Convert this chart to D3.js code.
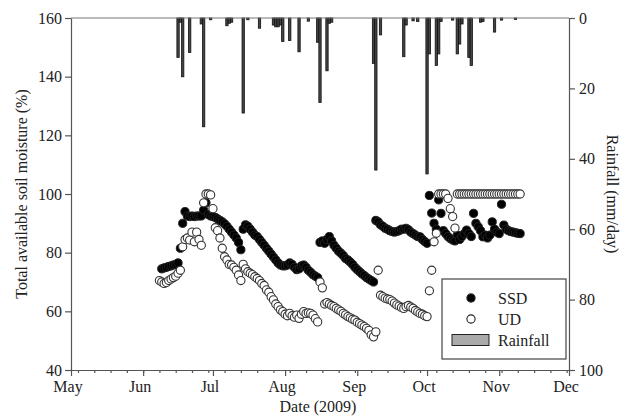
<!DOCTYPE html>
<html>
<head>
<meta charset="utf-8">
<script src="https://cdn.jsdelivr.net/npm/d3@7"></script>
<style>
  body { margin: 0; background: #fff; }
  svg { display: block; font-family: "Liberation Serif", "Times New Roman", serif; }
  .axis text { font-size: 16px; fill: #222; font-family: "Liberation Serif", serif; }
  .axis path, .axis line { stroke: #555; stroke-width: 1.2; }
</style>
</head>
<body>
<svg id="chart" width="625" height="416"></svg>
<script>
// ======== DATA ========
const xDomain = ['2009-05-01', '2009-12-01'];
const monthLabels = ['May', 'Jun', 'Jul', 'Aug', 'Sep', 'Oct', 'Nov', 'Dec'];
const moistureTicks = [40, 60, 80, 100, 120, 140, 160];
const rainTicks = [0, 20, 40, 60, 80, 100];

// daily readings, first day given by *Start
const ssdStart = '2009-06-09';
const ssdValues = [
  74.5, 74.8, 75, 75.3, 75.5, 75.8, 76, 76.5, 81.5,
  90, 94, 92.5, 92.3, 92.5, 92.3, 92.5, 92.5, 92.5, 94.5, 97, 93, 92.5,
  92.3, 92, 91.5, 91, 90.5, 89.8, 89, 88, 87, 86, 85, 83.5, 81,
  88, 89.5, 89, 88, 87, 86, 85.5, 84.5, 83.5, 82.5, 81.5, 80.5, 79.5, 78.5, 77.5, 76.5, 75.8,
  75.5, 75.5, 75.8, 76.5, 76, 75, 74.2, 74.5, 75.5, 75.8, 75, 74, 73.3, 72.5, 72, 71.5,
  83.5, 84, 83.2, 84.5, 85.5, 84, 82.5, 81.5, 80.5, 79.8, 79, 78, 77.5, 76.8, 76, 75, 74.2, 73.5, 72.8, 72.2, 71.5, 71, 70.5, 70,
  91, 90.5, 89.5, 89, 88.3, 88, 87.5, 87.2, 87, 87.2, 87.5, 88, 88, 88.3, 87.8, 87, 86.5, 86, 85.5, 85.4, 84.5, 83.8, 83.2,
  99.5, 93.5, 90, 88, 98, 93.4, 87.5, 86.5, 85.5, 84.8, 84.3, 84, 86, 84.5, 85.5, 86.5, 87.7, 86.5, 85.5, 93.4,
  90, 88.8, 87.5, 85.4, 86, 85, 86, 90.5, 88, 87, 86.5, 96.5, 89.4, 88, 87.5, 87.2, 87, 86.8, 86.6, 86.5
];

const udStart = '2009-06-08';
const udValues = [
  70.5, 70, 69.5, 69.8, 70.5, 71, 71.5, 72, 73, 74,
  82, 84.5, 85, 84.3, 87, 83.7, 87, 84.5, 82.5, 97, 100, 100, 99.7,
  95, 88.5, 87.5, 85, 81.5, 78.6, 77.5, 76, 75.8, 75, 74, 72.4, 70.5,
  76, 74.5, 73.5, 73, 72.5, 71.8, 71.2, 70.5, 69.5, 68.8, 67.3, 66.5, 65, 63.9, 62.5, 61.6, 60.5,
  59.9, 59, 58.5, 59.3, 58.5, 58, 58.7, 57.6, 59, 59.9, 59.3, 59.5, 59.3, 58.7, 57.5, 56.4,
  70, 68, 62.5, 63, 62.5, 62, 61.6, 61, 60.5, 60, 59.3, 58.8, 58.2, 57.8, 57.3, 57, 56.3, 55.8, 55.3, 54.8, 54.2, 53.5, 52, 51.3, 53,
  74, 65.5, 65, 64.5, 64.2, 64, 63.5, 62.8, 62.2, 61.8, 61.3, 61, 61.6, 62, 61.5, 61, 60.3, 59.8, 59.3, 59, 58.5, 58.2,
  67, 74, 83.7, 86.6, 100, 100, 100, 100, 98.5, 95, 92.3, 88.4,
  100, 100, 100, 100, 100, 100, 100, 100, 100, 100, 100, 100, 100, 100,
  100, 100, 100, 100, 100, 100, 100, 100, 100, 100, 100, 100, 100, 100
];

const rainDates = [
  '2009-06-16', '2009-06-17', '2009-06-18', '2009-06-21', '2009-06-26', '2009-06-27', '2009-06-30',
  '2009-07-07', '2009-07-08', '2009-07-09', '2009-07-14', '2009-07-16', '2009-07-21', '2009-07-27',
  '2009-07-28', '2009-07-29', '2009-07-30', '2009-07-31', '2009-08-03', '2009-08-07', '2009-08-11',
  '2009-08-15', '2009-08-16', '2009-08-19', '2009-08-20', '2009-08-21', '2009-09-08', '2009-09-09',
  '2009-09-11', '2009-09-21', '2009-09-22', '2009-09-25', '2009-09-27', '2009-10-01', '2009-10-02',
  '2009-10-05', '2009-10-06', '2009-10-07', '2009-10-12', '2009-10-14', '2009-10-15', '2009-10-16',
  '2009-10-19', '2009-10-20', '2009-10-24', '2009-10-25', '2009-10-30', '2009-11-02', '2009-11-08'
];
const rainMm = [
  11.2, 1.2, 16.7, 9.8, 1.7, 30.9, 0.5,
  2.2, 1.5, 1.2, 27, 0.5, 2.9, 2.0,
  2.5, 2.5, 2.0, 6.7, 6.4, 9.6, 0.9,
  6.9, 24, 15, 1.5, 1.2, 12.9, 43.2,
  4.8, 11, 2, 0.8, 1, 44.3, 10.2,
  13.5, 10.2, 1.0, 0.6, 10.2, 7.4, 1.7,
  11.2, 13.5, 1.2, 1.0, 4.0, 0.6, 0.4
];

// ======== LAYOUT ========
const W = 625, H = 416;
const margin = { top: 18, right: 56, bottom: 46, left: 71 };
const innerW = W - margin.left - margin.right;
const innerH = H - margin.top - margin.bottom;

const parse = d3.timeParse('%Y-%m-%d');
const daily = (start, values) => values.map((v, i) => ({ date: d3.timeDay.offset(parse(start), i), value: v }));
const ssd = daily(ssdStart, ssdValues);
const ud = daily(udStart, udValues);
const rain = rainDates.map((d, i) => ({ date: parse(d), mm: rainMm[i] }));

const svg = d3.select('#chart');
const g = svg.append('g').attr('transform', `translate(${margin.left},${margin.top})`);

const x = d3.scaleTime().domain(xDomain.map(parse)).range([0, innerW]);
const y = d3.scaleLinear().domain([40, 160]).range([innerH, 0]);
const yRain = d3.scaleLinear().domain([0, 100]).range([0, innerH]);

const dayW = x(parse('2009-05-02')) - x(parse('2009-05-01'));

// ----- rainfall bars hanging from the top -----
g.append('g').selectAll('rect')
  .data(rain)
  .join('rect')
  .attr('x', d => x(d.date) - dayW / 2)
  .attr('y', 0)
  .attr('width', dayW)
  .attr('height', d => yRain(d.mm))
  .attr('fill', '#444')
  .attr('stroke', '#111')
  .attr('stroke-width', 0.8);

// ----- axes -----
const xMinor = d3.axisBottom(x).ticks(d3.timeMonday).tickSize(3).tickFormat('');
g.append('g').attr('class', 'axis').attr('transform', `translate(0,${innerH})`).call(xMinor)
  .call(s => s.select('.domain').remove());

const xMajor = d3.axisBottom(x)
  .tickValues(d3.timeMonth.range(x.domain()[0], d3.timeDay.offset(x.domain()[1], 1)))
  .tickSize(6).tickSizeOuter(0)
  .tickFormat((d, i) => monthLabels[i]);
g.append('g').attr('class', 'axis').attr('transform', `translate(0,${innerH})`).call(xMajor)
  .call(s => s.selectAll('text').attr('y', 9).attr('dx', -3.5).attr('dy', '0.8em'));

g.append('g').attr('class', 'axis')
  .call(d3.axisLeft(y).tickValues(moistureTicks).tickSize(6).tickSizeOuter(0).tickPadding(3));

g.append('g').attr('class', 'axis').attr('transform', `translate(${innerW},0)`)
  .call(d3.axisRight(yRain).tickValues(rainTicks).tickSize(6).tickSizeOuter(0).tickPadding(4));

g.append('line')
  .attr('x1', 0).attr('x2', innerW).attr('y1', 0).attr('y2', 0)
  .attr('stroke', '#777').attr('stroke-width', 1.2);

// ----- soil moisture points -----
g.append('g').selectAll('circle')
  .data(ssd)
  .join('circle')
  .attr('cx', d => x(d.date))
  .attr('cy', d => y(d.value))
  .attr('r', 4.1)
  .attr('fill', '#000')
  .attr('stroke', '#222')
  .attr('stroke-width', 1);

g.append('g').selectAll('circle')
  .data(ud)
  .join('circle')
  .attr('cx', d => x(d.date))
  .attr('cy', d => y(d.value))
  .attr('r', 4.1)
  .attr('fill', '#fff')
  .attr('stroke', '#333')
  .attr('stroke-width', 1.1);

// ----- axis titles -----
svg.append('text')
  .attr('transform', `translate(27,${margin.top + innerH / 2}) rotate(-90)`)
  .attr('text-anchor', 'middle')
  .attr('font-size', 16).attr('fill', '#222')
  .text('Total available soil moisture (%)');

svg.append('text')
  .attr('transform', `translate(607,${margin.top + innerH / 2}) rotate(90)`)
  .attr('text-anchor', 'middle')
  .attr('font-size', 16).attr('fill', '#222')
  .text('Rainfall (mm/day)');

svg.append('text')
  .attr('x', margin.left + innerW / 2 - 2)
  .attr('y', 412)
  .attr('text-anchor', 'middle')
  .attr('font-size', 16).attr('fill', '#222')
  .text('Date (2009)');

// ----- legend -----
const legend = svg.append('g').attr('transform', 'translate(442,279)');
legend.append('rect')
  .attr('width', 124).attr('height', 80)
  .attr('fill', '#fff').attr('stroke', '#444').attr('stroke-width', 1.2);

const legendItems = [
  { label: 'SSD', type: 'filled' },
  { label: 'UD', type: 'open' },
  { label: 'Rainfall', type: 'bar' }
];
const item = legend.selectAll('g.item')
  .data(legendItems)
  .join('g')
  .attr('class', 'item')
  .attr('transform', (d, i) => `translate(0,${19 + i * 21})`);

item.filter(d => d.type !== 'bar').append('circle')
  .attr('cx', 29).attr('cy', 0).attr('r', 4.1)
  .attr('fill', d => d.type === 'filled' ? '#000' : '#fff')
  .attr('stroke', '#222').attr('stroke-width', 1.1);

item.filter(d => d.type === 'bar').append('rect')
  .attr('x', 10).attr('y', -5.5).attr('width', 37).attr('height', 11)
  .attr('fill', '#aaa').attr('stroke', '#222').attr('stroke-width', 1);

item.append('text')
  .attr('x', 56).attr('y', 0).attr('dy', '0.35em')
  .attr('font-size', 16).attr('fill', '#222')
  .text(d => d.label);
</script>
</body>
</html>
